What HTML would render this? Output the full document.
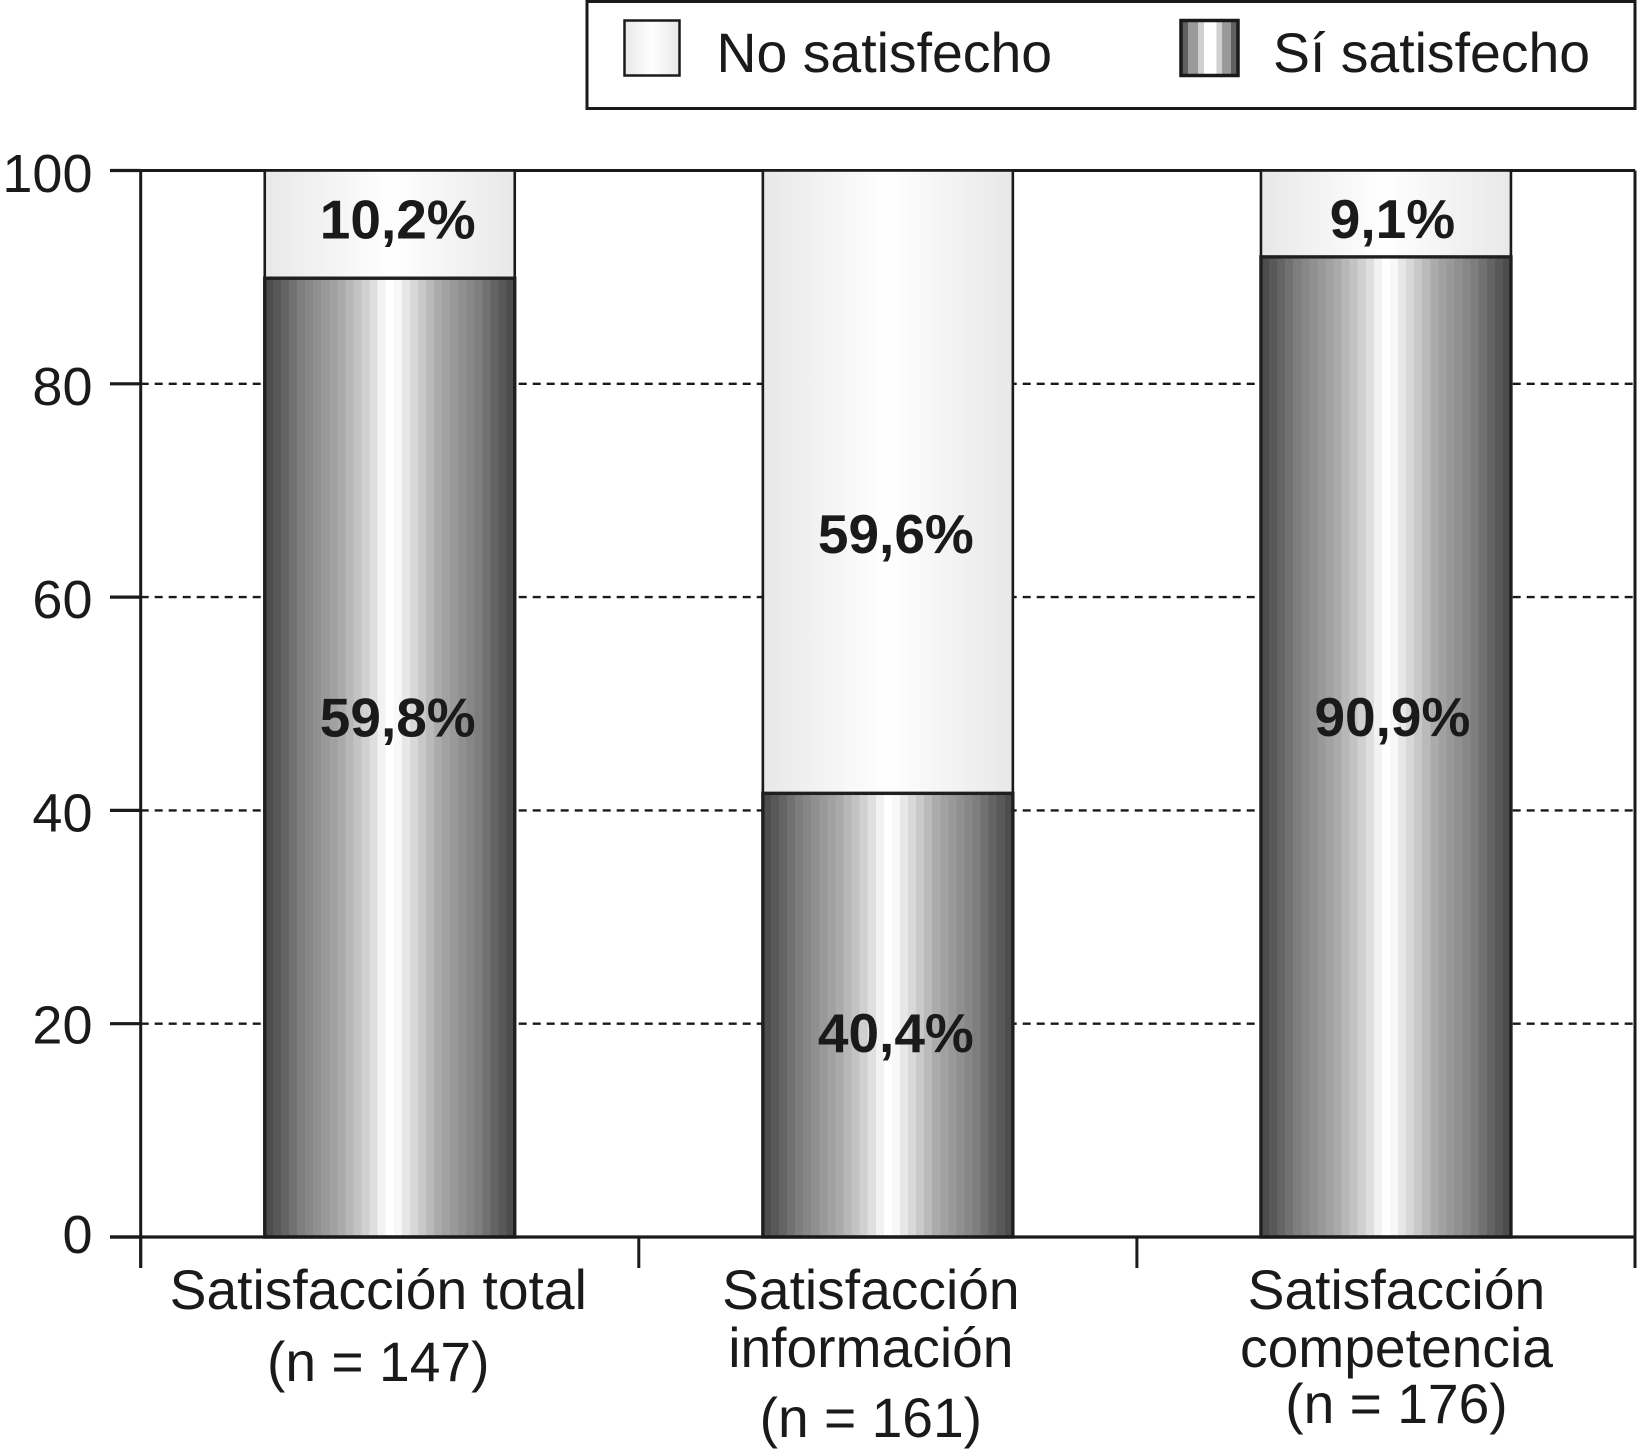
<!DOCTYPE html>
<html lang="es">
<head>
<meta charset="utf-8">
<title>Satisfacción</title>
<style>
html,body{margin:0;padding:0;background:#fff;}
svg{display:block;}
text{font-family:"Liberation Sans",Arial,sans-serif;fill:#1a1a1a;}
</style>
</head>
<body>
<svg id="chart" xmlns="http://www.w3.org/2000/svg" width="1637" height="1456" viewBox="0 0 1637 1456">
  <defs>
    <linearGradient id="darkGrad" x1="0" x2="1" y1="0" y2="0"></linearGradient>
    <linearGradient id="lightGrad" x1="0" x2="1" y1="0" y2="0">
      <stop offset="0" stop-color="#e8e8e8"/>
      <stop offset=".35" stop-color="#f8f8f8"/>
      <stop offset=".5" stop-color="#ffffff"/>
      <stop offset=".65" stop-color="#f8f8f8"/>
      <stop offset="1" stop-color="#e8e8e8"/>
    </linearGradient>
    <linearGradient id="swatchDarkGrad" x1="0" x2="1" y1="0" y2="0">
      <stop offset="0" stop-color="#606060"/><stop offset=".12" stop-color="#606060"/>
      <stop offset=".12" stop-color="#9a9a9a"/><stop offset=".3" stop-color="#9a9a9a"/>
      <stop offset=".3" stop-color="#d0d0d0"/><stop offset=".4" stop-color="#d0d0d0"/>
      <stop offset=".4" stop-color="#ffffff"/><stop offset=".62" stop-color="#ffffff"/>
      <stop offset=".62" stop-color="#d0d0d0"/><stop offset=".72" stop-color="#d0d0d0"/>
      <stop offset=".72" stop-color="#9a9a9a"/><stop offset=".88" stop-color="#9a9a9a"/>
      <stop offset=".88" stop-color="#606060"/><stop offset="1" stop-color="#606060"/>
    </linearGradient>
  </defs>

  <g id="plot"></g>

  <g>
    <rect x="587" y="1.5" width="1048" height="107" fill="#fff" stroke="#1a1a1a" stroke-width="3"/>
    <rect x="624.5" y="20.5" width="55" height="55" fill="url(#lightGrad)" stroke="#1a1a1a" stroke-width="2.5"/>
    <text x="716.5" y="72" font-size="55.4">No satisfecho</text>
    <rect x="1181" y="20.5" width="57" height="55" fill="url(#swatchDarkGrad)" stroke="#1a1a1a" stroke-width="3.5"/>
    <text x="1273" y="72" font-size="55.4">Sí satisfecho</text>
  </g>
</svg>

<script>
// Chart data (percent axis heights)
const categories = ['Satisfacción total', 'Satisfacción información', 'Satisfacción competencia'];
const categoryLines = [['Satisfacción total', '(n = 147)'], ['Satisfacción', 'información', '(n = 161)'], ['Satisfacción', 'competencia', '(n = 176)']];
const siSatisfecho = [89.9, 41.6, 91.9];
const noSatisfecho = [10.1, 58.4, 8.1];
const siLabels = ['59,8%', '40,4%', '90,9%'];
const noLabels = ['10,2%', '59,6%', '9,1%'];
const yTicks = [0, 20, 40, 60, 80, 100];

// Layout constants
const plotLeft = 140.7, plotRight = 1635, yZero = 1237, yTop = 170.5;
const barWidth = 250, catFontSize = 55.2, tickFontSize = 54;
const svgNS = 'http://www.w3.org/2000/svg';
const plot = document.getElementById('plot');

// Banded metallic fill for the dark segments
const bandCount = 31;
const shadeAnchors = [[0, 72], [0.06, 92], [0.15, 128], [0.3, 168], [0.42, 214], [0.475, 246], [0.49, 255], [0.52, 255], [0.57, 228], [0.7, 168], [0.85, 128], [0.94, 92], [1, 72]];
function shadeAt(t) {
  for (let k = 1; k < shadeAnchors.length; k++) {
    if (t <= shadeAnchors[k][0]) {
      const a = shadeAnchors[k - 1], b = shadeAnchors[k];
      return Math.round(a[1] + (b[1] - a[1]) * (t - a[0]) / (b[0] - a[0]));
    }
  }
  return 72;
}
const darkGrad = document.getElementById('darkGrad');
for (let b = 0; b < bandCount; b++) {
  const s = shadeAt((b + 0.5) / bandCount);
  [b / bandCount, (b + 1) / bandCount].forEach(function (off) {
    const stop = document.createElementNS('http://www.w3.org/2000/svg', 'stop');
    stop.setAttribute('offset', off);
    stop.setAttribute('stop-color', 'rgb(' + s + ',' + s + ',' + s + ')');
    darkGrad.appendChild(stop);
  });
}

function yScale(v) { return yZero - (v / 100) * (yZero - yTop); }
function xBandStart(i) { return plotLeft + i * (plotRight - plotLeft) / categories.length; }
function xCenter(i) { return xBandStart(i) + (plotRight - plotLeft) / categories.length / 2; }

function make(tag, attrs) {
  const el = document.createElementNS(svgNS, tag);
  for (const k in attrs) el.setAttribute(k, attrs[k]);
  plot.appendChild(el);
  return el;
}

// Gridlines
yTicks.forEach(function (t) {
  if (t === 0 || t === 100) return;
  const g = make('line', { x1: plotLeft, x2: plotRight, y1: yScale(t), y2: yScale(t), stroke: '#1a1a1a', 'stroke-width': 2.4, 'stroke-dasharray': '8 6' });
  
  
});

// Left frame line
const leftAxis = make('line', { x1: plotLeft, x2: plotLeft, y1: yTop, y2: 1268, stroke: '#1a1a1a', 'stroke-width': 3 });



// Y ticks and labels
const yLabelNudge = [16, 20, 21, 21, 21, 21.5];
yTicks.forEach(function (t, i) {
  const tick = make('line', { x1: 110, x2: plotLeft, y1: yScale(t), y2: yScale(t), stroke: '#1a1a1a', 'stroke-width': 3.2 });
  
  
  const lab = make('text', { x: 92.5, y: yScale(t) + yLabelNudge[i], 'font-size': tickFontSize, 'text-anchor': 'end' });
  lab.textContent = String(t);
  
  
});

// Top frame line
const topLine = make('line', { x1: plotLeft, x2: plotRight, y1: yTop, y2: yTop, stroke: '#1a1a1a', 'stroke-width': 3 });



// X category separators
for (let i = 0; i <= categories.length; i++) {
  const sep = make('line', { x1: xBandStart(i), x2: xBandStart(i), y1: i === categories.length ? yTop : yZero, y2: 1268, stroke: '#1a1a1a', 'stroke-width': 3 });
  
  
}

// Stacked bars
categories.forEach(function (c, i) {
  const x = xCenter(i) - barWidth / 2;
  const darkTop = yScale(siSatisfecho[i]);
  const lightTop = yScale(siSatisfecho[i] + noSatisfecho[i]);
  const light = make('rect', { x: x, y: lightTop, width: barWidth, height: darkTop - lightTop, fill: 'url(#lightGrad)', stroke: '#1a1a1a', 'stroke-width': 2.6 });
  
  
  const dark = make('rect', { x: x, y: darkTop, width: barWidth, height: yZero - darkTop, fill: 'url(#darkGrad)', stroke: '#1f1f1f', 'stroke-width': 3.4 });
  
  
});

const bottomLine = make('line', { x1: 110, x2: plotRight, y1: yZero, y2: yZero, stroke: '#1a1a1a', 'stroke-width': 3.2 });



// Printed value labels: placed relative to their segment midpoints
const noLabelNudge = [14, 71, 24.5];
const siLabelNudge = [-21, 37, -11];
const labelShiftX = [8, 8, 6.5];
categories.forEach(function (c, i) {
  const darkTop = yScale(siSatisfecho[i]);
  const lightTop = yScale(siSatisfecho[i] + noSatisfecho[i]);
  const t1 = make('text', { x: xCenter(i) + labelShiftX[i], y: (lightTop + darkTop) / 2 + noLabelNudge[i], 'font-size': 55, 'font-weight': 'bold', 'text-anchor': 'middle' });
  t1.textContent = noLabels[i];
  
  
  const t2 = make('text', { x: xCenter(i) + labelShiftX[i], y: (darkTop + yZero) / 2 + siLabelNudge[i], 'font-size': 55, 'font-weight': 'bold', 'text-anchor': 'middle' });
  t2.textContent = siLabels[i];
  
  
});

// Category labels
const catShiftX = [-11.5, -17, 10.5];
const catBaselines = [[1309, 1381], [1309, 1367, 1437], [1309, 1367, 1423]];
categoryLines.forEach(function (lines, i) {
  lines.forEach(function (line, j) {
    const t = make('text', { x: xCenter(i) + catShiftX[i], y: catBaselines[i][j], 'font-size': catFontSize, 'text-anchor': 'middle' });
    t.textContent = line;
    
    
  });
});
</script>
</body>
</html>
